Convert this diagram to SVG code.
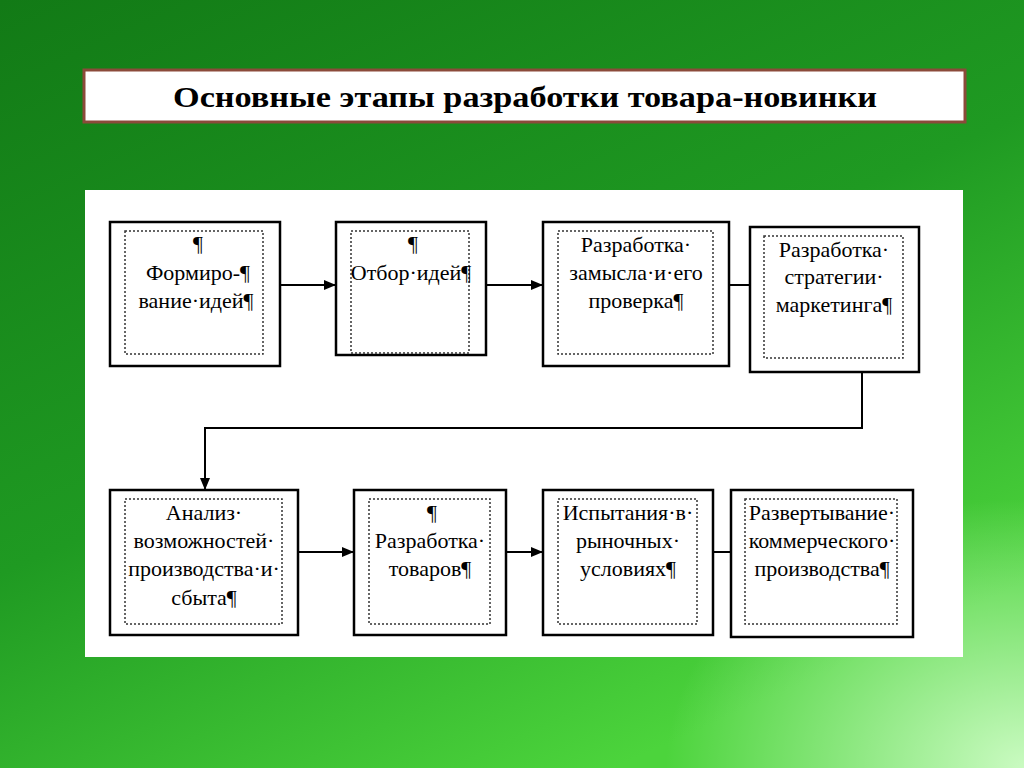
<svg xmlns="http://www.w3.org/2000/svg" width="1024" height="768" viewBox="0 0 1024 768">
<defs>
<linearGradient id="bg" x1="0" y1="0" x2="0.6" y2="1">
<stop offset="0" stop-color="#127a16"/><stop offset="0.55" stop-color="#1f9a22"/><stop offset="1" stop-color="#4cd43c"/>
</linearGradient>
<radialGradient id="glow" cx="1" cy="1" r="0.35"><stop offset="0" stop-color="#d8ffd0" stop-opacity="0.9"/><stop offset="1" stop-color="#d8ffd0" stop-opacity="0"/></radialGradient>
<marker id="ah" markerWidth="12" markerHeight="10" refX="12" refY="5" orient="auto" markerUnits="userSpaceOnUse"><path d="M0,0 L12,5 L0,10 Z" fill="#000"/></marker>
<style>
.box{fill:#fff;stroke:#000;stroke-width:2.5}
.in{fill:none;stroke:#333;stroke-width:1.5;stroke-dasharray:2 2}
.t{font-family:"Liberation Serif","DejaVu Serif",serif;font-size:22px;fill:#000;text-anchor:middle}
.c{fill:none;stroke:#000;stroke-width:2}
</style>
</defs>
<rect width="1024" height="768" fill="url(#bg)"/>
<rect width="1024" height="768" fill="url(#glow)"/>
<rect x="84" y="70" width="881" height="52" fill="#fff" stroke="#8b4a3a" stroke-width="3"/>
<text x="525" y="107" font-family="Liberation Serif, serif" font-size="30" font-weight="bold" text-anchor="middle" textLength="704" lengthAdjust="spacingAndGlyphs">Основные этапы разработки товара-новинки</text>
<rect x="85" y="190" width="878" height="467" fill="#fff"/>
<g id="connectors">
<line class="c" x1="280" y1="285" x2="336" y2="285" marker-end="url(#ah)"/>
<line class="c" x1="486" y1="285" x2="543" y2="285" marker-end="url(#ah)"/>
<line class="c" x1="729" y1="285" x2="750" y2="285"/>
<polyline class="c" points="862,372 862,428 205,428 205,490" marker-end="url(#ah)"/>
<line class="c" x1="298" y1="552" x2="354" y2="552" marker-end="url(#ah)"/>
<line class="c" x1="506" y1="552" x2="543" y2="552" marker-end="url(#ah)"/>
<line class="c" x1="713" y1="552" x2="731" y2="552"/>
</g>
<g id="n1"><rect class="box" x="110" y="222" width="170" height="144"/><rect class="in" x="125" y="231" width="138" height="123"/>
<text class="t" x="198" y="251">¶</text><text class="t" x="198" y="280">Формиро-¶</text><text class="t" x="196" y="308">вание·идей¶</text></g>
<g id="n2"><rect class="box" x="336" y="222" width="150" height="133"/><rect class="in" x="351" y="231" width="118" height="122"/>
<text class="t" x="413" y="251">¶</text><text class="t" x="411" y="280">Отбор·идей¶</text></g>
<g id="n3"><rect class="box" x="543" y="222" width="186" height="144"/><rect class="in" x="558" y="231" width="155" height="123"/>
<text class="t" x="636" y="252">Разработка·</text><text class="t" x="636" y="280">замысла·и·его</text><text class="t" x="636" y="308">проверка¶</text></g>
<g id="n4"><rect class="box" x="750" y="227" width="169" height="145"/><rect class="in" x="764" y="236" width="139" height="122"/>
<text class="t" x="834" y="257">Разработка·</text><text class="t" x="834" y="284">стратегии·</text><text class="t" x="834" y="312">маркетинга¶</text></g>
<g id="n5"><rect class="box" x="110" y="490" width="188" height="145"/><rect class="in" x="125" y="499" width="157" height="125"/>
<text class="t" x="204" y="520">Анализ·</text><text class="t" x="204" y="548">возможностей·</text><text class="t" x="204" y="576">производства·и·</text><text class="t" x="204" y="605">сбыта¶</text></g>
<g id="n6"><rect class="box" x="354" y="490" width="152" height="145"/><rect class="in" x="369" y="499" width="121" height="125"/>
<text class="t" x="432" y="520">¶</text><text class="t" x="430" y="548">Разработка·</text><text class="t" x="430" y="576">товаров¶</text></g>
<g id="n7"><rect class="box" x="543" y="490" width="170" height="145"/><rect class="in" x="558" y="499" width="139" height="125"/>
<text class="t" x="628" y="520">Испытания·в·</text><text class="t" x="628" y="548">рыночных·</text><text class="t" x="628" y="576">условиях¶</text></g>
<g id="n8"><rect class="box" x="731" y="490" width="182" height="147"/><rect class="in" x="745" y="499" width="152" height="125"/>
<text class="t" x="822" y="520">Развертывание·</text><text class="t" x="822" y="548">коммерческого·</text><text class="t" x="822" y="576">производства¶</text></g>
</svg>
